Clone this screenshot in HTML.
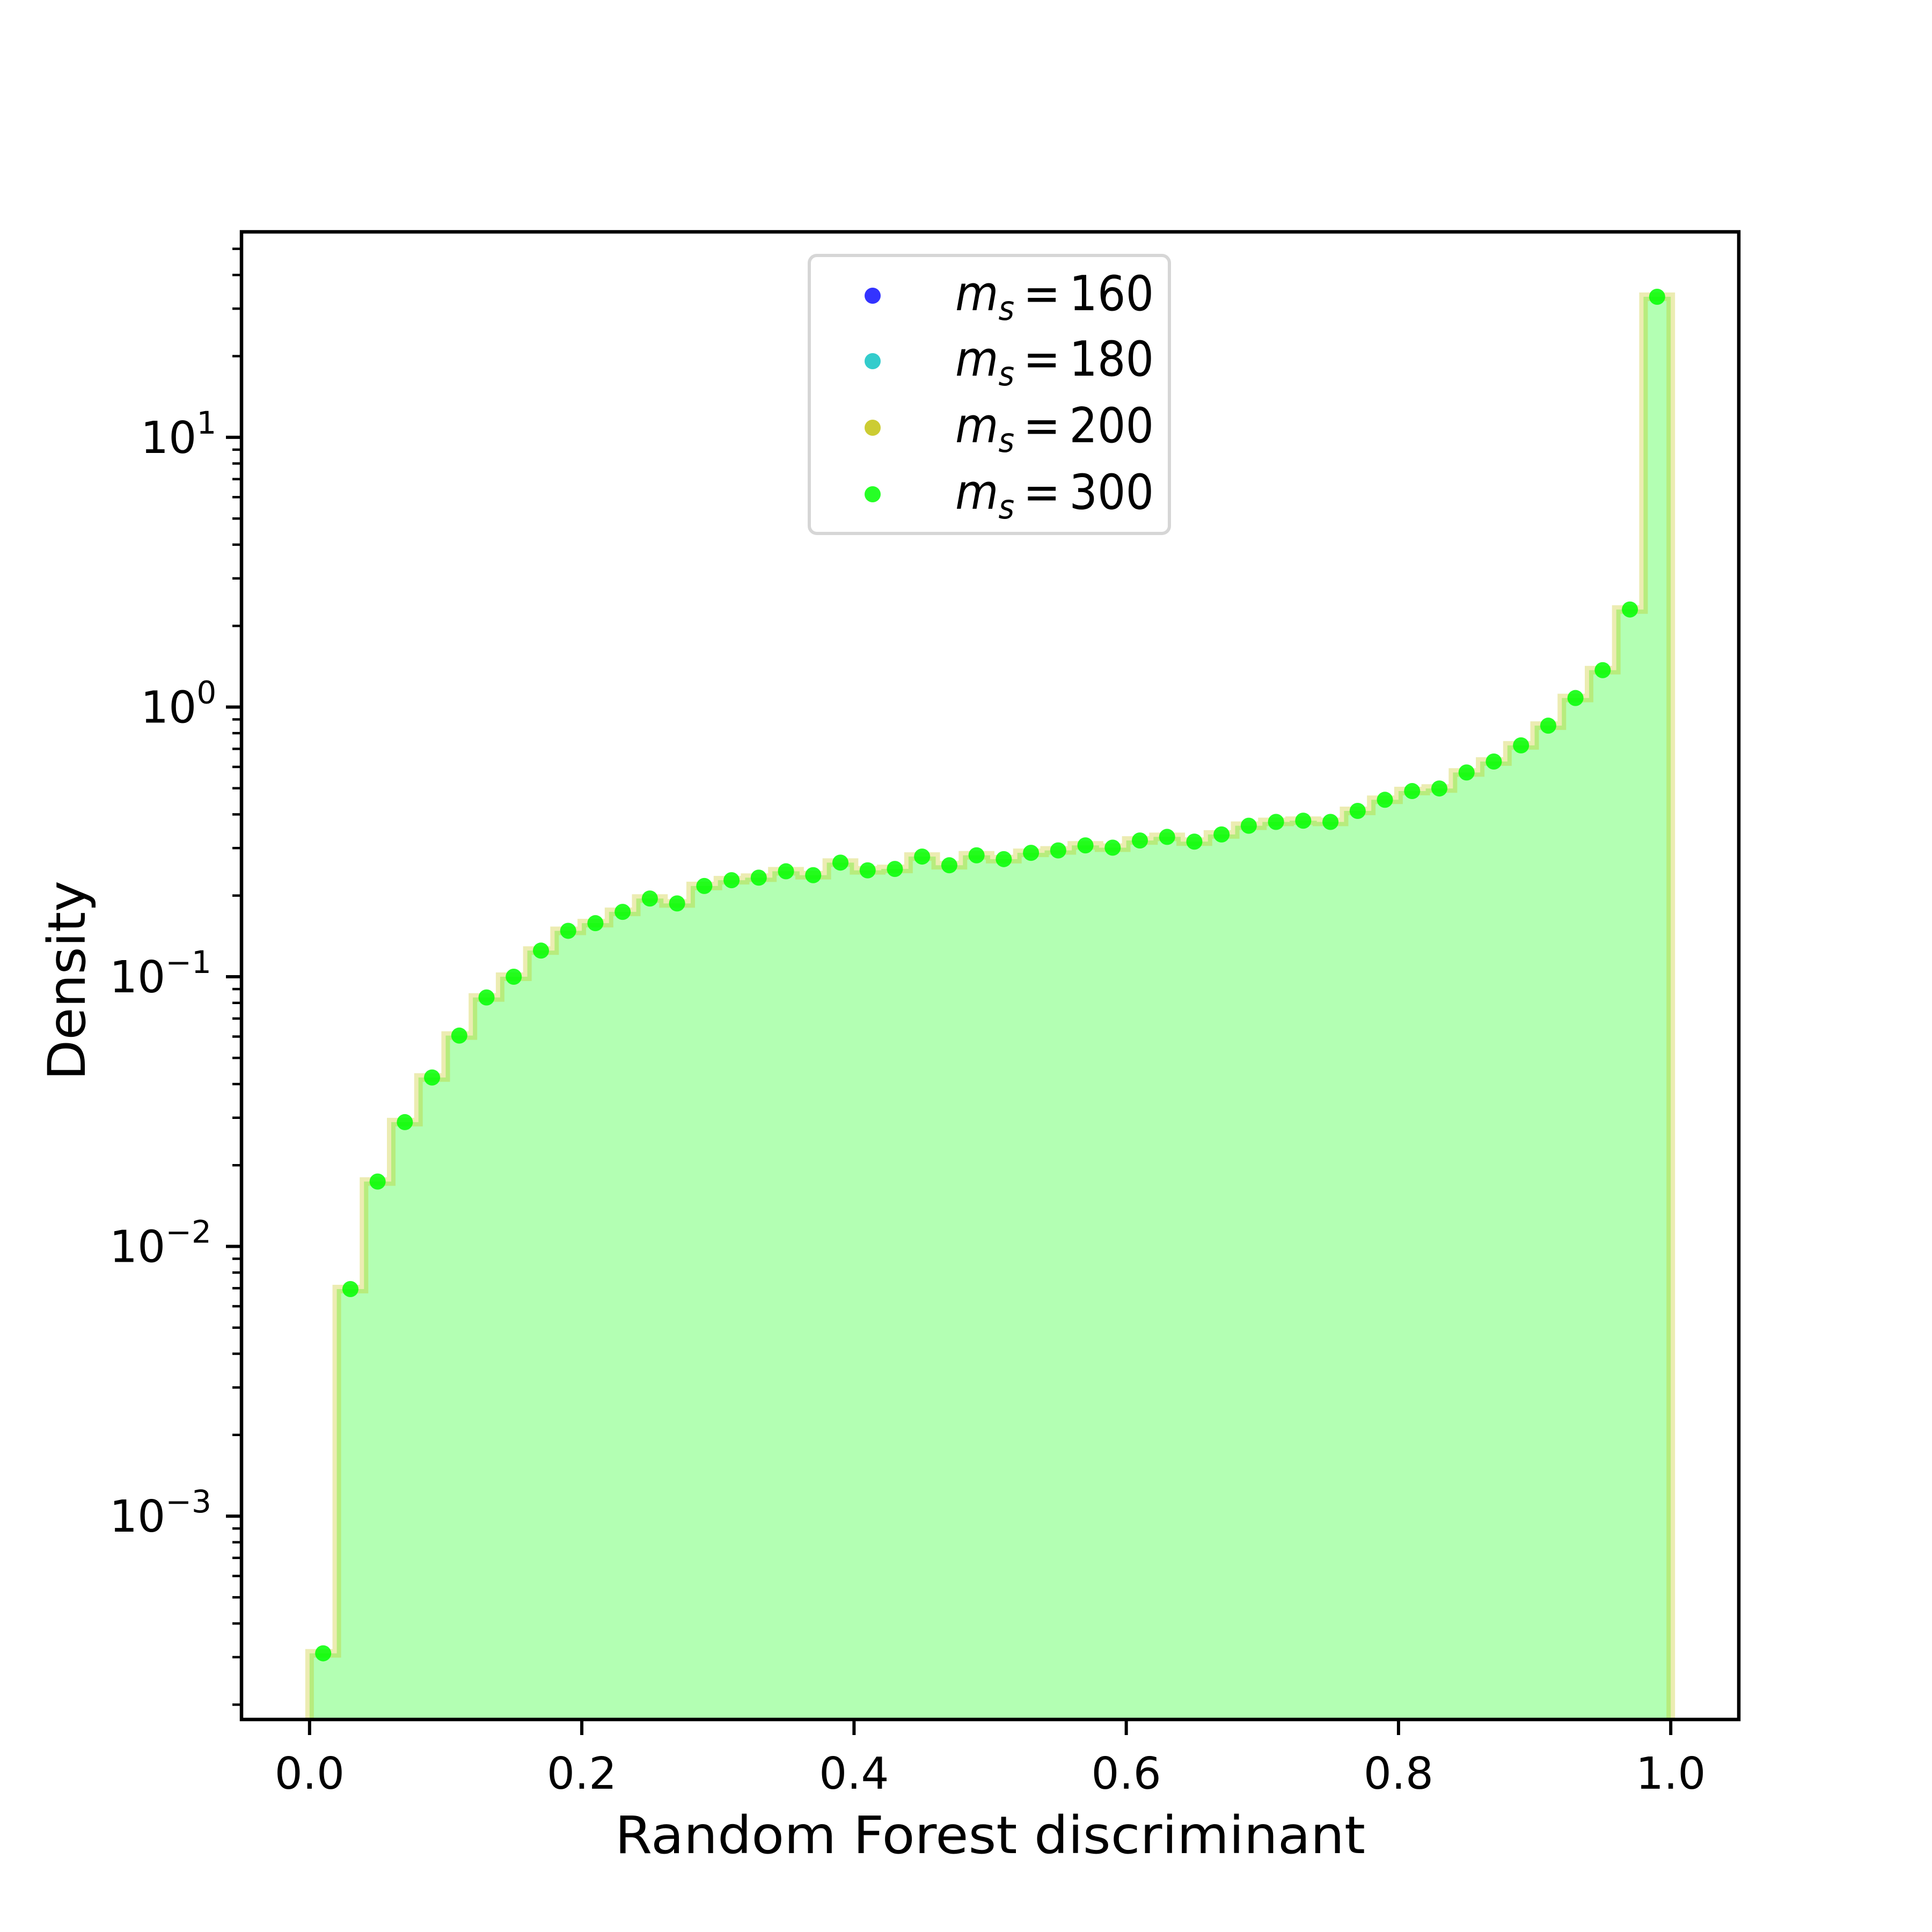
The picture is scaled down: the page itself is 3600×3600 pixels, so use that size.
<!DOCTYPE html>
<html><head><meta charset="utf-8"><style>
html,body{margin:0;padding:0;background:#fff;}
svg{display:block;}
text{font-family:"DejaVu Sans","Liberation Sans",sans-serif;fill:#000;}
</style></head><body>
<svg id="chart" width="3600" height="3600" viewBox="0 0 3600 3600" xmlns="http://www.w3.org/2000/svg">
<rect width="3600" height="3600" fill="#fff"/>
<g id="plot"></g>
</svg>
<script>
const binEdgesStart = 0.0;
const binWidth = 0.02;
const densityMs300 = [3.1e-4,0.00695,0.0174,0.0289,0.0423,0.0605,0.0838,0.100,0.125,0.148,
0.158,0.174,0.195,0.187,0.217,0.228,0.233,0.246,0.238,0.265,
0.248,0.251,0.279,0.259,0.282,0.273,0.288,0.294,0.307,0.301,
0.320,0.330,0.317,0.337,0.363,0.375,0.379,0.375,0.412,0.453,
0.488,0.499,0.572,0.628,0.721,0.853,1.08,1.37,2.30,33.2];
const xTicks = [0.0,0.2,0.4,0.6,0.8,1.0];
const xTickLabels = ["0.0","0.2","0.4","0.6","0.8","1.0"];
const yDecades = [-3,-2,-1,0,1];
const legendLabels = ["160","180","200","300"];
const legendColors = ["rgba(0,0,255,0.8)","rgba(0,191,191,0.8)","rgba(191,191,0,0.8)","rgba(0,255,0,0.85)"];

const L=450,R=3240,T=432,B=3204;
const XMIN=-0.05,XMAX=1.05,LMIN=-3.754,LMAX=1.762;
const xs=v=>L+(v-XMIN)/(XMAX-XMIN)*(R-L);
const ys=v=>T+(LMAX-Math.log10(v))/(LMAX-LMIN)*(B-T);
const NS="http://www.w3.org/2000/svg";
const g=document.getElementById('plot');
function mk(tag,attrs,parent){const e=document.createElementNS(NS,tag);for(const k in attrs)e.setAttribute(k,attrs[k]);(parent||g).appendChild(e);return e;}

let d=`M${xs(binEdgesStart)},${B}`;
densityMs300.forEach((v,i)=>{const x0=xs(binEdgesStart+i*binWidth),x1=xs(binEdgesStart+(i+1)*binWidth),y=ys(v);d+=` L${x0},${y} L${x1},${y}`;});
d+=` L${xs(binEdgesStart+densityMs300.length*binWidth)},${B}`;
const fill=mk('path',{d:d+' Z',fill:'rgb(179,255,179)',stroke:'none'});


const step=mk('path',{d:d,fill:'none',stroke:'rgba(191,191,0,0.3)','stroke-width':16,'stroke-linejoin':'miter'});



densityMs300.forEach((v,i)=>{
  const c=mk('circle',{cx:xs(binEdgesStart+(i+0.5)*binWidth),cy:ys(v),r:15,fill:'rgba(0,255,0,0.85)'});
  
  
});

const fr=mk('rect',{x:L,y:T,width:R-L,height:B-T,fill:'none',stroke:'#000','stroke-width':6.5});



xTicks.forEach((v,i)=>{
  const x=xs(v);
  const t=mk('line',{x1:x,x2:x,y1:B,y2:B+29,stroke:'#000','stroke-width':6});
  
  
  const tx=mk('text',{x:x,y:3333,'text-anchor':'middle','font-size':82});
  tx.textContent=xTickLabels[i];
  
  
});

for(let e=-4;e<=2;e++){
  for(let m=1;m<10;m++){
    const v=m*Math.pow(10,e);const lg=Math.log10(v);
    if(lg<LMIN||lg>LMAX)continue;
    const y=ys(v);
    const t=mk('line',{x1:L,x2:L-(m===1?29:17),y1:y,y2:y,stroke:'#000','stroke-width':m===1?6:4.5});
    
    
  }
}
yDecades.forEach(e=>{
  const y=ys(Math.pow(10,e));
  const tx=mk('text',{x:e<0?204:262,y:y+29,'text-anchor':'start','font-size':82});
  
  
  const b=mk('tspan',{},tx);b.textContent='10';
  const s=mk('tspan',{dy:-36,'font-size':58},tx);s.textContent=e<0?('\u2212'+(-e)):String(e);
});

const xl=mk('text',{x:1845,y:3453,'text-anchor':'middle','font-size':96,textLength:1398,lengthAdjust:'spacingAndGlyphs'});
xl.textContent='Random Forest discriminant';


const yl=mk('text',{x:0,y:0,'text-anchor':'middle','font-size':96,transform:'translate(158,1827) rotate(-90)',textLength:372,lengthAdjust:'spacingAndGlyphs'});
yl.textContent='Density';



const lg=mk('g',{});


const lb=mk('rect',{x:1508,y:476,width:671,height:518,rx:14,fill:'#fff',stroke:'#d6d6d6','stroke-width':6},lg);


const rowY=[548,670,794,918];
legendLabels.forEach((lab,i)=>{
  const en=mk('g',{},lg);
  
  
  mk('circle',{cx:1626,cy:rowY[i]+3,r:15,fill:legendColors[i]},en);
  const t=mk('text',{x:1780,y:rowY[i]+30,'font-size':90,textLength:370,lengthAdjust:'spacingAndGlyphs'},en);
  const m=mk('tspan',{'font-style':'italic'},t);m.textContent='m';
  const s=mk('tspan',{'font-style':'italic','font-size':62,dy:18},t);s.textContent='s';
  const r=mk('tspan',{dy:-18},t);r.textContent='\u2009=\u2009'+lab;
});
</script>
</body></html>
